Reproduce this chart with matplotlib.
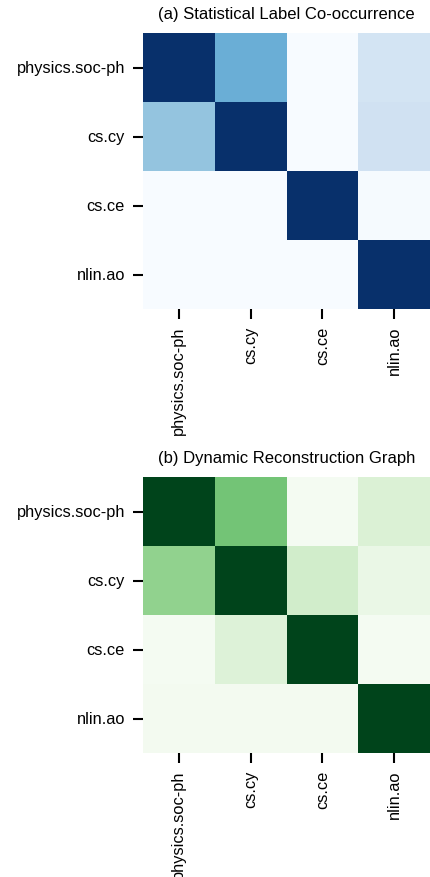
import matplotlib
matplotlib.use("Agg")
import matplotlib.pyplot as plt
import numpy as np
import seaborn as sns

labels = ["physics.soc-ph", "cs.cy", "cs.ce", "nlin.ao"]

stat_cooc = np.array([
    [1.00, 0.50, 0.00, 0.18],
    [0.40, 1.00, 0.00, 0.20],
    [0.00, 0.00, 1.00, 0.01],
    [0.00, 0.00, 0.00, 1.00],
])

dyn_graph = np.array([
    [1.00, 0.50, 0.02, 0.17],
    [0.42, 1.00, 0.21, 0.09],
    [0.02, 0.16, 1.00, 0.02],
    [0.03, 0.03, 0.03, 1.00],
])

sns.set_style("ticks")
plt.rcParams["font.family"] = ["Liberation Sans", "DejaVu Sans"]

W, H = 430, 878
fig = plt.figure(figsize=(W / 100, H / 100), dpi=100)

panels = [
    (stat_cooc, "Blues", "(a) Statistical Label Co-occurrence", 34, 310),
    (dyn_graph, "Greens", "(b) Dynamic Reconstruction Graph", 478, 754),
]
for data, cmap, title, top, bottom in panels:
    ax = fig.add_axes([143 / W, (H - bottom) / H, (430 - 143) / W, (bottom - top) / H])
    sns.heatmap(data, cmap=cmap, vmin=0, vmax=1, cbar=False, square=False,
                xticklabels=labels, yticklabels=labels, ax=ax)
    ax.set_title(title, fontsize=12, pad=10.5, color="black")
    ax.tick_params(axis="both", length=7, width=1.5, labelsize=11.8, pad=6,
                   color="black", labelcolor="black")
    ax.tick_params(axis="x", pad=5)
    ax.set_xticklabels(labels, rotation=90)
    ax.set_yticklabels(labels, rotation=0)

fig.savefig("out.png", dpi=100)
